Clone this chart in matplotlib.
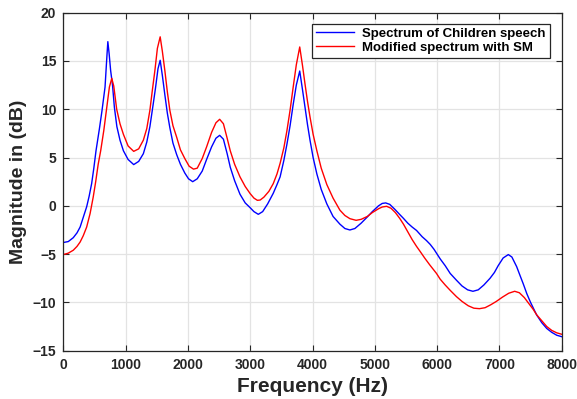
import matplotlib
matplotlib.use("Agg")
import matplotlib.pyplot as plt

freq_children = [0, 80, 160, 220, 270, 320, 375, 415, 455, 490, 525, 580, 620, 670, 700, 715, 735, 760, 790, 820, 860, 910, 965,
                 1040, 1130, 1210, 1285, 1340, 1390, 1440, 1480, 1520, 1555, 1590, 1630, 1670, 1710, 1760,
                 1820, 1880, 1950, 2010, 2077, 2150, 2230, 2300, 2380, 2450, 2510, 2570, 2630, 2680, 2750,
                 2836, 2920, 3000, 3060, 3130, 3200, 3280, 3370, 3430, 3480, 3540, 3590, 3640, 3690, 3740,
                 3795, 3840, 3880, 3920, 3960, 4010, 4070, 4140, 4230, 4330, 4440, 4520, 4600, 4680, 4780,
                 4880, 4960, 5060, 5120, 5175, 5240, 5320, 5400, 5460, 5530, 5600, 5670, 5760, 5830, 5890,
                 5950, 6000, 6050, 6130, 6210, 6310, 6400, 6490, 6575, 6660, 6750, 6850, 6920, 6980, 7060,
                 7143, 7200, 7277, 7330, 7384, 7440, 7500, 7560, 7598, 7680, 7760, 7840, 7920, 8000]
mag_children = [-3.8, -3.7, -3.3, -2.8, -2.2, -1.2, -0.1, 1.0, 2.3, 3.9, 5.7, 8.0, 9.8, 12.3, 15.5, 17.0, 15.8, 14.0, 12.5, 10.2, 8.2, 6.8, 5.7,
                4.8, 4.27, 4.6, 5.4, 6.6, 8.2, 10.4, 12.2, 14.2, 15.07, 13.5, 11.5, 9.6, 8.1, 6.5,
                5.3, 4.3, 3.4, 2.8, 2.5, 2.8, 3.6, 4.8, 6.1, 7.0, 7.3, 6.9, 5.4, 4.0, 2.6,
                1.2, 0.3, -0.2, -0.6, -0.88, -0.6, 0.2, 1.3, 2.2, 3.0, 4.7, 6.4, 8.3, 10.5, 12.5,
                13.96, 12.0, 10.2, 8.4, 6.8, 5.0, 3.3, 1.7, 0.2, -1.1, -1.9, -2.35, -2.5, -2.35, -1.8,
                -1.15, -0.6, 0.0, 0.25, 0.3, 0.15, -0.35, -0.9, -1.3, -1.8, -2.2, -2.55, -3.2, -3.6, -4.0,
                -4.5, -5.0, -5.5, -6.2, -7.0, -7.7, -8.3, -8.7, -8.85, -8.7, -8.2, -7.5, -6.9, -6.2, -5.4,
                -5.05, -5.3, -6.3, -7.2, -8.1, -9.1, -10.0, -10.8, -11.3, -12.1, -12.7, -13.1, -13.4, -13.55]

freq_modified = [0, 80, 160, 220, 270, 320, 375, 430, 480, 520, 560, 600, 650, 700, 740, 778, 810, 857, 910, 965,
                 1040, 1130, 1210, 1285, 1340, 1390, 1430, 1470, 1510, 1555, 1590, 1630, 1670, 1710, 1760,
                 1820, 1880, 1950, 2020, 2090, 2150, 2230, 2300, 2380, 2450, 2510, 2570, 2630, 2680, 2750,
                 2836, 2920, 3000, 3060, 3115, 3160, 3220, 3300, 3370, 3430, 3480, 3540, 3590, 3640, 3690,
                 3740, 3795, 3840, 3880, 3920, 3960, 4010, 4070, 4140, 4230, 4330, 4440, 4520, 4600, 4700,
                 4780, 4880, 4960, 5060, 5120, 5190, 5260, 5330, 5400, 5460, 5530, 5600, 5670, 5725, 5800,
                 5880, 5990, 6050, 6130, 6210, 6310, 6400, 6500, 6590, 6680, 6770, 6860, 6950, 7050, 7150,
                 7245, 7320, 7400, 7470, 7540, 7600, 7680, 7760, 7840, 7920, 8000]
mag_modified = [-5.05, -4.9, -4.6, -4.2, -3.75, -3.1, -2.2, -0.8, 0.9, 2.5, 4.3, 5.7, 7.8, 10.3, 12.3, 13.2, 12.4, 10.0, 8.5, 7.4,
                6.2, 5.64, 5.9, 6.8, 8.0, 9.9, 12.0, 14.0, 16.3, 17.5, 16.0, 14.0, 11.8, 9.9, 8.3,
                7.1, 5.8, 4.9, 4.1, 3.8, 3.9, 4.9, 6.1, 7.6, 8.6, 8.96, 8.5, 7.0, 5.7, 4.3,
                3.0, 2.0, 1.26, 0.8, 0.57, 0.6, 0.9, 1.5, 2.3, 3.3, 4.4, 6.0, 7.8, 9.9, 12.3,
                14.6, 16.45, 14.5, 12.6, 10.8, 9.2, 7.4, 5.7, 3.9, 2.2, 0.8, -0.45, -1.0, -1.33, -1.5,
                -1.4, -1.1, -0.7, -0.3, -0.12, -0.05, -0.25, -0.7, -1.3, -1.9, -2.7, -3.5, -4.2, -4.7, -5.4,
                -6.1, -7.0, -7.6, -8.2, -8.75, -9.4, -9.9, -10.35, -10.6, -10.65, -10.55, -10.25, -9.9, -9.45, -9.05,
                -8.85, -9.0, -9.5, -10.1, -10.7, -11.3, -11.9, -12.5, -12.9, -13.15, -13.3]

x_ticks = [0, 1000, 2000, 3000, 4000, 5000, 6000, 7000, 8000]
y_ticks = [-15, -10, -5, 0, 5, 10, 15, 20]
series_labels = ["Spectrum of Children speech", "Modified spectrum with SM"]

plt.rcParams['font.family'] = ['Liberation Sans', 'DejaVu Sans']
plt.rcParams['font.weight'] = 'bold'

fig = plt.figure(figsize=(5.77, 3.99), dpi=100)
ax = fig.add_axes([0.1097, 0.1211, 0.8638, 0.8471])

ax.plot(freq_children, mag_children, color='#0000ff', lw=1.0, label=series_labels[0])
ax.plot(freq_modified, mag_modified, color='#ff0000', lw=1.0, label=series_labels[1])

ax.set_xlim(0, 8000)
ax.set_ylim(-15, 20)
ax.set_xticks(x_ticks)
ax.set_yticks(y_ticks)
ax.grid(True, color='#e3e3e3', lw=0.9)
ax.set_axisbelow(True)
for s in ax.spines.values():
    s.set_color('#262626')
    s.set_linewidth(0.9)
ax.tick_params(direction='in', top=True, right=True, length=4, width=0.8, colors='#262626',
               labelsize=10, labelcolor='#262626', pad=5)
for lab in ax.get_xticklabels() + ax.get_yticklabels():
    lab.set_fontweight('bold')

ax.set_xlabel('Frequency (Hz)', fontsize=15, fontweight='bold', color='#262626', labelpad=4)
ax.set_ylabel('Magnitude in (dB)', fontsize=14, fontweight='bold', color='#262626', labelpad=4)

leg = ax.legend(loc='upper right', bbox_to_anchor=(0.976, 0.968), fontsize=9.5, frameon=True,
                fancybox=False, edgecolor='#262626', framealpha=1, handlelength=2.9,
                borderpad=0.3, labelspacing=0.15, handletextpad=0.6, borderaxespad=0)
leg.get_frame().set_linewidth(0.9)
for t in leg.get_texts():
    t.set_fontweight('bold')

fig.savefig('out.png', dpi=100)
